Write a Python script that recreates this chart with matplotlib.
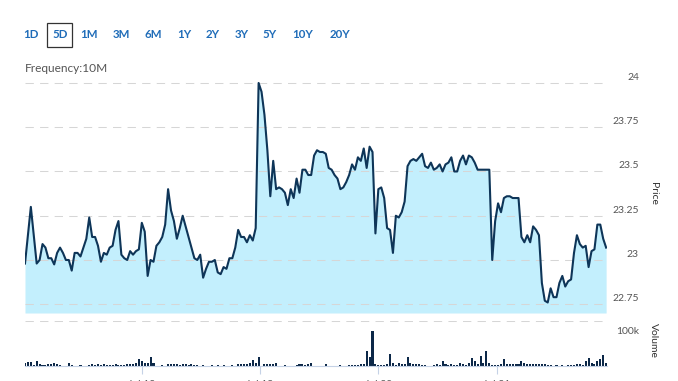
import numpy as np
import matplotlib
matplotlib.use("Agg")
import matplotlib.pyplot as plt
from matplotlib.patches import Rectangle
from matplotlib.transforms import ScaledTranslation

plt.rcParams["font.family"] = ["Lato", "DejaVu Sans"]

# 10-minute prices over 5 days
price = [
    22.98, 23.14, 23.30, 23.14, 22.98, 23.00, 23.09, 23.07, 23.01, 23.01,
    22.975, 23.04, 23.07, 23.04, 23.00, 23.00, 22.94, 23.04, 23.04, 23.02,
    23.07, 23.12, 23.24, 23.13, 23.13, 23.08, 22.99, 23.04, 23.03, 23.07,
    23.08, 23.17, 23.22,
    23.03, 23.01, 23.00, 23.05, 23.03, 23.05, 23.06, 23.21, 23.16, 22.91,
    23.00, 22.99, 23.08, 23.10, 23.13, 23.20, 23.40, 23.28, 23.22, 23.12,
    23.18, 23.25, 23.19, 23.13, 23.07, 23.01, 23.00, 23.03, 22.90, 22.95,
    22.99, 22.99,
    23.00, 22.93, 22.92, 22.96, 22.95, 23.01, 23.01, 23.07, 23.17, 23.13,
    23.13, 23.10, 23.14, 23.11, 23.18, 24.00, 23.95, 23.82, 23.62, 23.36,
    23.56, 23.40, 23.41, 23.40, 23.38, 23.31, 23.40, 23.35, 23.46, 23.38,
    23.51, 23.51,
    23.48, 23.48, 23.59, 23.62, 23.61, 23.61, 23.60, 23.52, 23.51, 23.48,
    23.46, 23.40, 23.41, 23.44, 23.48, 23.54, 23.51, 23.58, 23.56, 23.63,
    23.52, 23.64, 23.61, 23.15, 23.40, 23.41, 23.35, 23.18, 23.17, 23.04,
    23.25, 23.24, 23.27, 23.33,
    23.53, 23.56, 23.57, 23.56, 23.58, 23.60, 23.53, 23.52, 23.55, 23.51,
    23.52, 23.54, 23.50, 23.54, 23.55, 23.58, 23.50, 23.50, 23.56, 23.59,
    23.54, 23.59, 23.58, 23.55, 23.51, 23.51, 23.51, 23.51, 23.51, 23.00,
    23.22, 23.32, 23.27, 23.35, 23.36, 23.36, 23.35, 23.35, 23.35, 23.13,
    23.10, 23.14, 23.10, 23.19, 23.17, 23.14, 22.87, 22.77, 22.76, 22.84,
    22.79, 22.79, 22.87, 22.91, 22.85, 22.88, 22.89, 23.04, 23.14, 23.09,
    23.07, 23.08, 22.96, 23.05, 23.06, 23.20, 23.20, 23.12, 23.07,
]

# volume in thousands
volume = [
    6, 9, 9, 1.6, 11, 4, 1.6, 1.6, 5.5, 4,
    7, 5.5, 1.6, 0.8, 0.8, 7, 2.3, 0.8, 0.8, 2.3,
    0.8, 0.8, 1.6, 4, 2.3, 4, 1.6, 4, 2.3, 1.6,
    2.3, 4, 1.6, 1.6, 2.3, 5.5, 4, 5.5, 7, 16,
    11, 7, 7, 20, 7, 0.8, 0.8, 2.3, 0.8, 4,
    5.5, 4, 4, 2.3, 4, 4, 2.3, 4, 3, 2.3,
    0.8, 2.3, 0.8, 0.8, 1.6, 0.8, 1.6, 0.8, 2.3, 0.8,
    0.8, 1.6, 0.8, 4, 5.5, 5.5, 5.5, 7, 13, 7,
    20, 0.8, 5.5, 4, 4, 4, 7, 0.8, 0.8, 2.3,
    0.8, 0.8, 0.8, 1.6, 4, 4, 1.6, 5.5, 7, 0.8,
    0.8, 0.8, 0.8, 4, 0.8, 0.8, 0.8, 0.8, 2.3, 0.8,
    0.8, 2.3, 2.3, 2.3, 2.3, 4, 4, 33, 20, 78,
    5.5, 1.6, 2.3, 1.6, 5.5, 26, 7, 2.3, 7, 5.5,
    4, 20, 7, 5.5, 4, 4, 1.6, 2.3, 0.8, 0.8,
    2.3, 4, 2.3, 11, 4, 2.3, 5.5, 2.3, 2.3, 7,
    5.5, 2.3, 7, 18, 11, 4, 22, 7, 33, 7,
    1.6, 2.3, 2.3, 5.5, 15, 4, 4, 4, 4, 4,
    11, 7, 5.5, 4, 5.5, 5.5, 4, 4, 5.5, 2.3,
    2.3, 0.8, 2.3, 0.8, 2.3, 0.8, 2.3, 2.3, 1.6, 4,
    5.5, 2.3, 11, 18, 7, 5.5, 11, 15, 24, 7,
]

price_ticks = [22.75, 23, 23.25, 23.5, 23.75, 24]
price_labels = ["22.75", "23", "23.25", "23.5", "23.75", "24"]
day_ticks = [40, 80.5, 121, 161.5]
day_labels = ["Jul 18", "Jul 19", "Jul 20", "Jul 21"]
ranges = ["1D", "5D", "1M", "3M", "6M", "1Y", "2Y", "3Y", "5Y", "10Y", "20Y"]
range_x = [31, 60, 89, 121, 153, 184, 213, 242, 270, 303, 340]

W, H = 678, 381
line_col = "#0e3558"
fill_col = "#c3effd"
grid_col = "#d6d6d6"
txt_col = "#555555"

fig = plt.figure(figsize=(W / 100, H / 100), dpi=100)

x = np.arange(len(price))

# price panel
ax = fig.add_axes([25 / W, 1 - 313 / H, 582 / W, 235 / H])
ax.fill_between(x, price, 22.7006, color=fill_col, lw=0)
ax.plot(x, price, color=line_col, lw=1.5)
ax.set_xlim(0, 199.3)
ax.set_ylim(22.7006, 24.028)
ax.set_yticks(price_ticks)
ax.set_yticklabels(price_labels)
ax.yaxis.tick_right()
ax.tick_params(axis="y", length=0, pad=23, labelsize=7.5, labelcolor=txt_col)
for lab in ax.get_yticklabels():
    lab.set_horizontalalignment("right")
    lab.set_transform(lab.get_transform() + ScaledTranslation(0, 0.065, fig.dpi_scale_trans))
ax.set_xticks([])
ax.grid(axis="y", color=grid_col, lw=0.75, linestyle=(0, (8, 6)))
for s in ax.spines.values():
    s.set_visible(False)

# volume panel
vax = fig.add_axes([25 / W, 1 - 366 / H, 582 / W, 45 / H])
vax.bar(x, volume, width=0.7, color="#0c2848")
vax.set_xlim(0, 199.3)
vax.set_ylim(0, 100)
vax.set_yticks([100])
vax.set_yticklabels(["100k"])
vax.yaxis.tick_right()
vax.tick_params(axis="y", length=0, pad=23, labelsize=7.5, labelcolor=txt_col)
for lab in vax.get_yticklabels():
    lab.set_horizontalalignment("right")
    lab.set_transform(lab.get_transform() + ScaledTranslation(0, -0.10, fig.dpi_scale_trans))
vax.grid(axis="y", color=grid_col, lw=0.75, linestyle=(0, (8, 6)))
vax.set_xticks(day_ticks)
vax.set_xticklabels(day_labels)
vax.tick_params(axis="x", length=6, width=0.8, color="#c5d2e6", pad=4,
                labelsize=7.5, labelcolor=txt_col)
for k, s in vax.spines.items():
    s.set_visible(k == "bottom")
vax.spines["bottom"].set_color("#c5d2e6")
vax.spines["bottom"].set_linewidth(0.8)

# axis titles
fig.text(653 / W, 1 - 193 / H, "Price", rotation=-90, ha="center", va="center",
         fontsize=7.5, color="#333333")
fig.text(653 / W, 1 - 340 / H, "Volume", rotation=-90, ha="center", va="center",
         fontsize=7.5, color="#333333")

# range buttons
for r, rx in zip(ranges, range_x):
    fig.text(rx / W, 1 - 35 / H, r, ha="center", va="center", fontsize=8.3,
             fontweight="bold", color="#1f6cb8")
fig.add_artist(Rectangle((47 / W, 1 - 47 / H), 25 / W, 24 / H,
                         transform=fig.transFigure, fill=False,
                         edgecolor="#333333", lw=0.9))
fig.text(25 / W, 1 - 69 / H, "Frequency:10M", ha="left", va="center",
         fontsize=8.6, color=txt_col)

fig.savefig("out.png", dpi=100)
